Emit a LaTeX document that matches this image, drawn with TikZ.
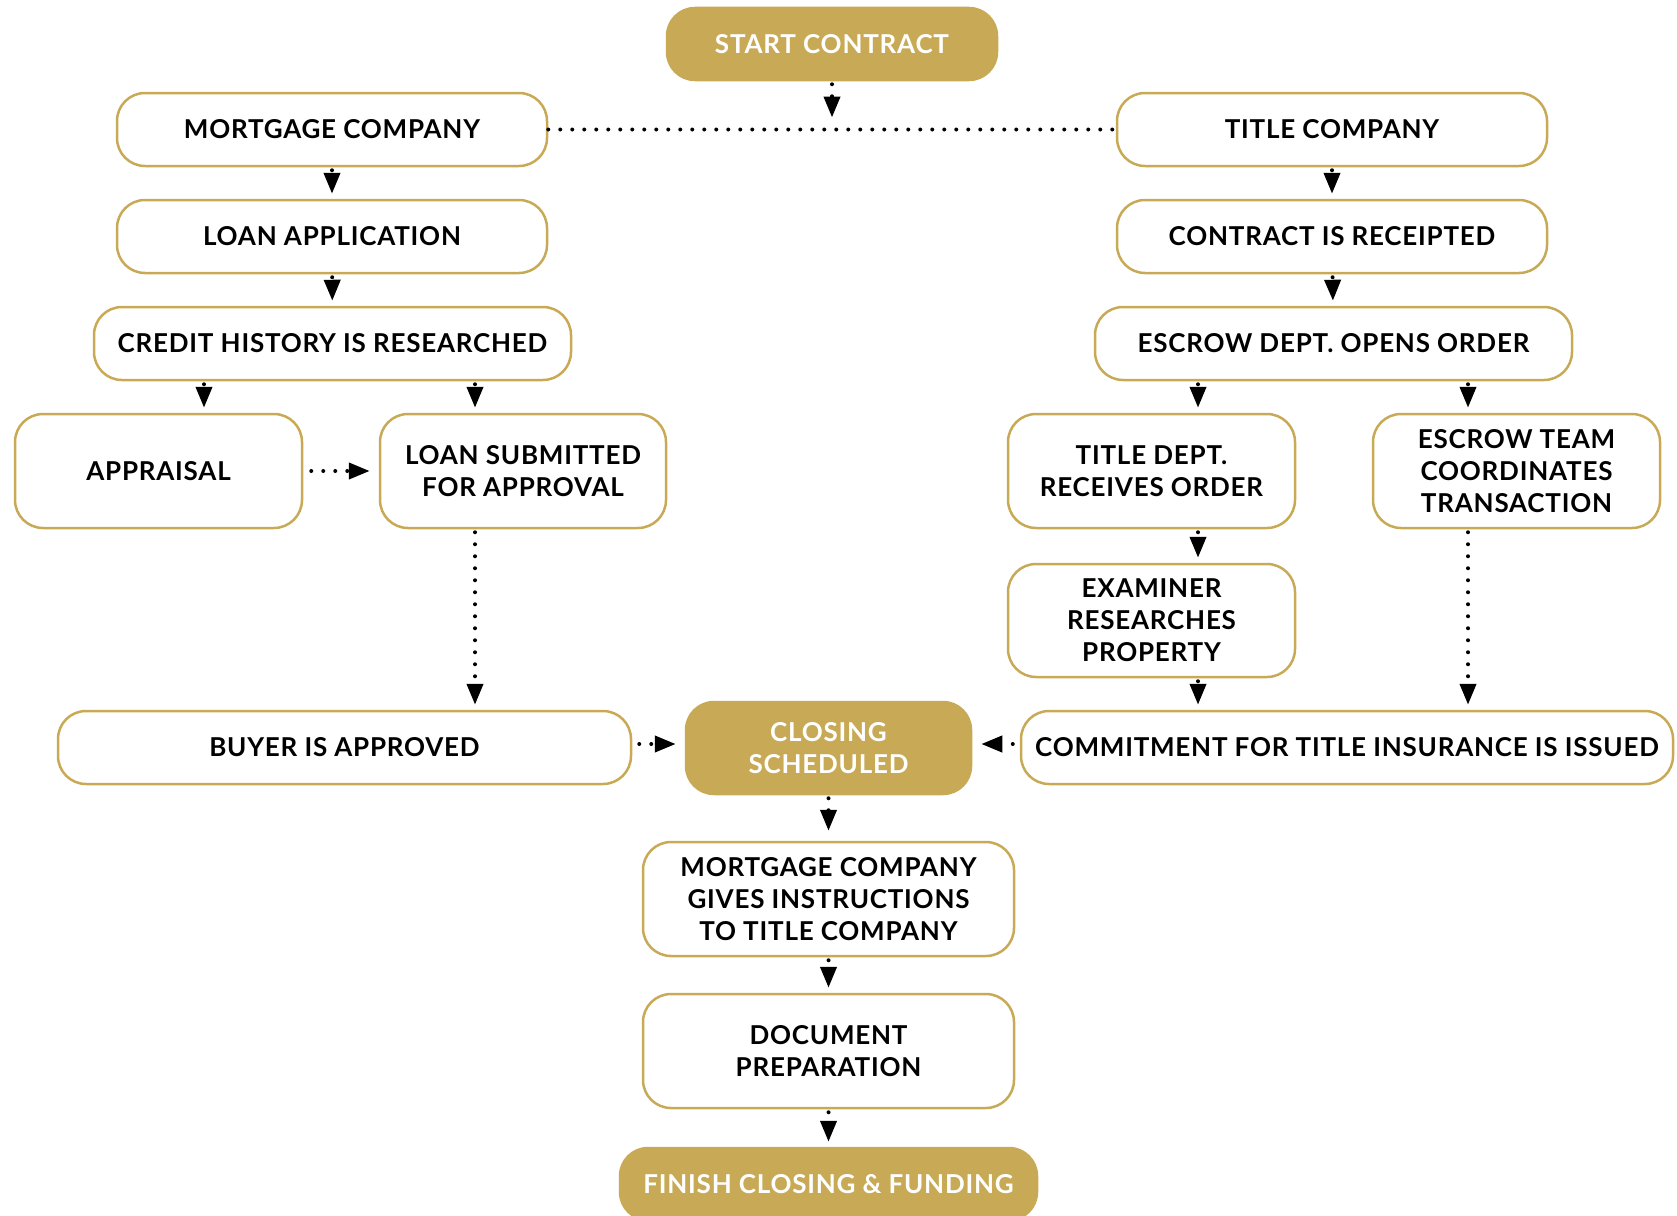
\documentclass[tikz,border=0pt]{standalone}
\usepackage{fontspec}
\setmainfont{Lato}[LetterSpace=3]
\usepackage{tikz}
\usetikzlibrary{arrows.meta}
\usetikzlibrary{positioning}
\definecolor{TITLE-GOLD}{HTML}{C8AA56}

\begin{document}
\begin{tikzpicture}[x=1pt,y=-1pt,every path/.style={>={Triangle[length=21pt,width=16pt]}},
	box/.style={draw=TITLE-GOLD,line width=2.5pt,rounded corners=28pt,fill=white,align=center,inner sep=0pt,
		text=black,font=\fontsize{26}{32}\selectfont\bfseries},
	goldbox/.style={box,fill=TITLE-GOLD,text=white},
	flow/.style={->,line width=4pt,dash pattern=on 0pt off 12pt,line cap=round,shorten <=3pt,shorten >=5pt},
	dots/.style={line width=4pt,dash pattern=on 0pt off 12pt,line cap=round}]
			\useasboundingbox (0,0) rectangle (1677,1215);

			% draw nodes
			\node (start) at (832,44) [goldbox,minimum width=330pt,minimum height=72pt] {START CONTRACT};
			\node (mortgage) at (332,129.5) [box,minimum width=430pt,minimum height=73pt] {MORTGAGE COMPANY};
			\node (title) at (1332,129.5) [box,minimum width=430pt,minimum height=73pt] {TITLE COMPANY};
			\node (loanapp) at (332,236.5) [box,minimum width=430pt,minimum height=73pt] {LOAN APPLICATION};
			\node (receipted) at (1332,236.5) [box,minimum width=430pt,minimum height=73pt] {CONTRACT IS RECEIPTED};
			\node (credit) at (332.5,343.5) [box,minimum width=477pt,minimum height=73pt] {CREDIT HISTORY IS RESEARCHED};
			\node (escrow) at (1333.5,343.5) [box,minimum width=477pt,minimum height=73pt] {ESCROW DEPT. OPENS ORDER};
			\node (appraisal) at (158.5,471) [box,minimum width=287pt,minimum height=114pt] {APPRAISAL};
			\node (submitted) at (523,471) [box,minimum width=286pt,minimum height=114pt] {LOAN SUBMITTED\\FOR APPROVAL};
			\node (titledept) at (1151.5,471) [box,minimum width=287pt,minimum height=114pt] {TITLE DEPT.\\RECEIVES ORDER};
			\node (escrowteam) at (1516.5,471) [box,minimum width=287pt,minimum height=114pt] {ESCROW TEAM\\COORDINATES\\TRANSACTION};
			\node (examiner) at (1151.5,620.5) [box,minimum width=287pt,minimum height=113pt] {EXAMINER\\RESEARCHES\\PROPERTY};
			\node (buyer) at (344.5,747.5) [box,minimum width=573pt,minimum height=73pt] {BUYER IS APPROVED};
			\node (closing) at (828.5,748) [goldbox,minimum width=285pt,minimum height=92pt] {CLOSING\\SCHEDULED};
			\node (commitment) at (1347,747.5) [box,minimum width=652pt,minimum height=73pt] {COMMITMENT FOR TITLE INSURANCE IS ISSUED};
			\node (instructions) at (828.5,899) [box,minimum width=371pt,minimum height=114pt] {MORTGAGE COMPANY\\GIVES INSTRUCTIONS\\TO TITLE COMPANY};
			\node (docprep) at (828.5,1051) [box,minimum width=371pt,minimum height=114pt] {DOCUMENT\\PREPARATION};
			\node (finish) at (828.5,1184) [goldbox,minimum width=417pt,minimum height=72pt] {FINISH CLOSING \& FUNDING};

			% draw connectors
			\draw[dots] (mortgage.east) -- (title.west);
			\draw[flow,shorten >=12pt] (start.south) -- (start.south |- mortgage.east);
			\draw[flow] (mortgage) -- (loanapp);
			\draw[flow] (loanapp) -- (credit);
			\draw[flow] (title) -- (receipted);
			\draw[flow] (receipted) -- (escrow);
			\draw[flow] ([xshift=-128.5pt]credit.south) -- ([xshift=-128.5pt]credit.south |- appraisal.north);
			\draw[flow] ([xshift=142.5pt]credit.south) -- ([xshift=142.5pt]credit.south |- submitted.north);
			\draw[flow] ([xshift=-135.5pt]escrow.south) -- ([xshift=-135.5pt]escrow.south |- titledept.north);
			\draw[flow] ([xshift=134.5pt]escrow.south) -- ([xshift=134.5pt]escrow.south |- escrowteam.north);
			\draw[flow,shorten <=8pt,shorten >=9pt] (appraisal) -- (submitted);
			\draw[flow] ([xshift=46.5pt]titledept.south) -- ([xshift=46.5pt]titledept.south |- examiner.north);
			\draw[flow] ([xshift=46.5pt]examiner.south) -- ([xshift=46.5pt]examiner.south |- commitment.north);
			\draw[flow] ([xshift=-48pt]submitted.south) -- ([xshift=-48pt]submitted.south |- buyer.north);
			\draw[flow] ([xshift=-48.5pt]escrowteam.south) -- ([xshift=-48.5pt]escrowteam.south |- commitment.north);
			\draw[flow,shorten <=7pt,shorten >=9pt] ([yshift=3.5pt]buyer.east) -- ([yshift=3.5pt]buyer.east -| closing.west);
			\draw[flow,shorten <=7pt,shorten >=9pt] ([yshift=3.5pt]commitment.west) -- ([yshift=3.5pt]commitment.west -| closing.east);
			\draw[flow,shorten >=10pt] (closing) -- (instructions);
			\draw[flow] (instructions) -- (docprep);
			\draw[flow] (docprep) -- (finish);
		\end{tikzpicture}
\end{document}
